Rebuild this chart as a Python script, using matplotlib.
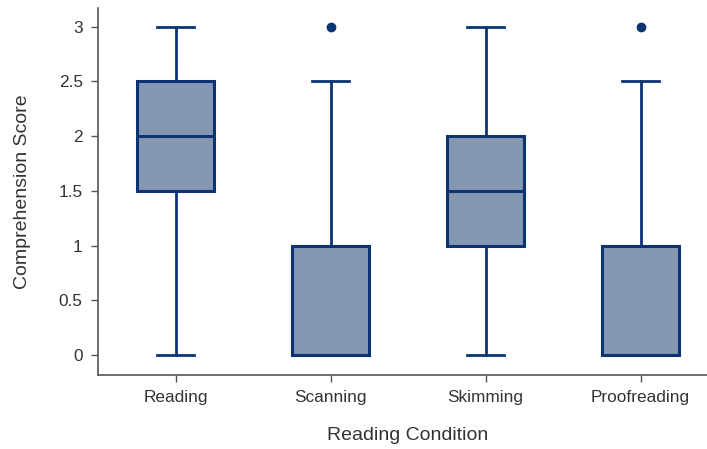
import matplotlib.pyplot as plt

plt.rcParams['font.family'] = ['Liberation Sans', 'DejaVu Sans']

conditions = ["Reading", "Scanning", "Skimming", "Proofreading"]
q1 = [1.5, 0.0, 1.0, 0.0]
med = [2.0, 0.0, 1.5, 0.0]
q3 = [2.5, 1.0, 2.0, 1.0]
whislo = [0.0, 0.0, 0.0, 0.0]
whishi = [3.0, 2.5, 3.0, 2.5]
fliers = [[], [3.0], [], [3.0]]

edge = "#0c3472"
fill = "#8497b3"

stats = []
for i in range(len(conditions)):
    stats.append(dict(label=conditions[i], q1=q1[i], med=med[i], q3=q3[i],
                      whislo=whislo[i], whishi=whishi[i], fliers=fliers[i]))

fig = plt.figure(figsize=(7.07, 4.49), dpi=100)
# plot area runs slightly past the right edge of the canvas
ax = fig.add_axes([98/707, 74/449, 620/707, 367/449])

ax.bxp(stats, positions=range(4), widths=0.5, patch_artist=True,
       boxprops=dict(facecolor=fill, edgecolor=edge, linewidth=2.2),
       medianprops=dict(color=edge, linewidth=2.2),
       whiskerprops=dict(color=edge, linewidth=2.0),
       capprops=dict(color=edge, linewidth=2.0),
       capwidths=0.24,
       flierprops=dict(marker='o', markerfacecolor=edge, markeredgecolor=edge, markersize=6))

ax.set_xlim(-0.5, 3.5)
ax.set_ylim(-0.183, 3.17)
ax.set_yticks([0, 0.5, 1, 1.5, 2, 2.5, 3])
ax.set_yticklabels(["0", "0.5", "1", "1.5", "2", "2.5", "3"])

for s in ["top", "right"]:
    ax.spines[s].set_visible(False)
for s in ["left", "bottom"]:
    ax.spines[s].set_color("#555555")
    ax.spines[s].set_linewidth(1.2)
ax.tick_params(axis="both", direction="out", length=5, width=1, color="#555555",
               labelsize=12.4, labelcolor="#333333", pad=6)

ax.set_xlabel("Reading Condition", fontsize=14, color="#333333", labelpad=16)
ax.set_ylabel("Comprehension Score", fontsize=14, color="#333333", labelpad=20)

fig.savefig("out.png", dpi=100)
